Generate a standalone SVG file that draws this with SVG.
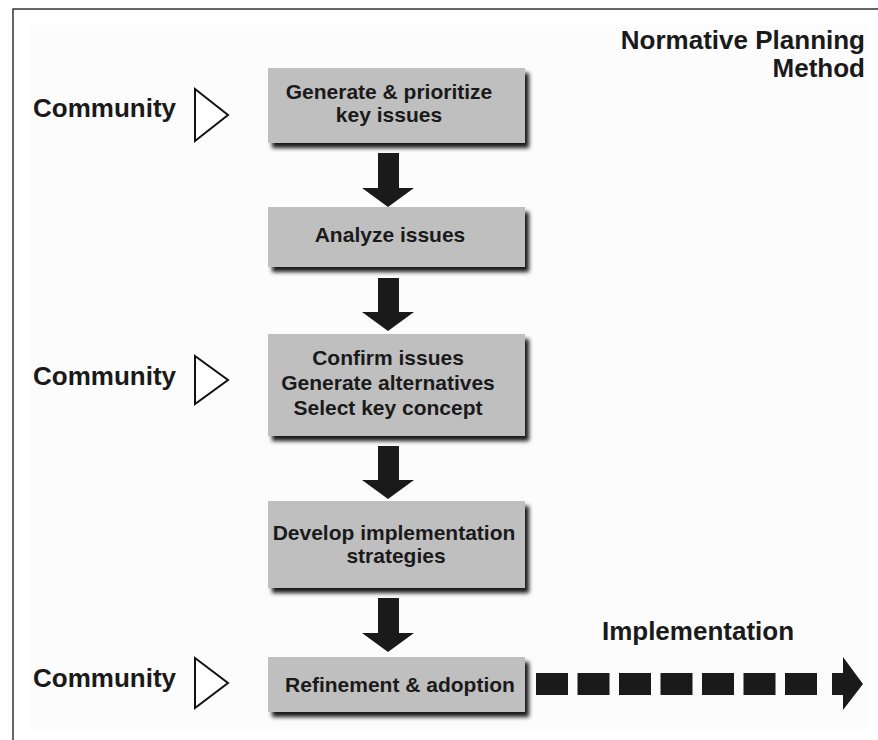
<svg xmlns="http://www.w3.org/2000/svg" width="878" height="740" viewBox="0 0 878 740">
<style>
text{font-family:"Liberation Sans",Arial,sans-serif;font-weight:bold;fill:#1a1a1a}
.lbl{font-size:26px}
.box text{font-size:21px;text-anchor:middle}
.box rect{fill:#bfbfbf;filter:url(#sh)}
.tri{fill:#fff;stroke:#111;stroke-width:2;stroke-linejoin:miter}
.arr{fill:#1a1a1a}
</style>
<defs>
<filter id="sh" x="-10%" y="-20%" width="130%" height="150%">
<feDropShadow dx="4" dy="5" stdDeviation="2" flood-color="#000" flood-opacity="0.9"/>
</filter>
</defs>
<rect width="878" height="740" fill="#fff"/>
<rect x="30" y="25" width="838" height="705" fill="#fcfcfc"/>
<path d="M13,740 V9 H878" fill="none" stroke="#333" stroke-width="1.5"/>

<g id="title">
<text class="lbl" x="865" y="49" text-anchor="end">Normative Planning</text>
<text class="lbl" x="865" y="77" text-anchor="end">Method</text>
</g>

<g id="community1">
<text class="lbl" x="33" y="117">Community</text>
<polygon class="tri" points="195,89 228,115 195,141"/>
</g>
<g id="community2">
<text class="lbl" x="33" y="385">Community</text>
<polygon class="tri" points="195,356 228,380 195,404"/>
</g>
<g id="community3">
<text class="lbl" x="33" y="687">Community</text>
<polygon class="tri" points="195,658 228,683 195,708"/>
</g>

<g id="step1" class="box">
<rect x="268" y="68" width="257" height="75"/>
<text x="389" y="99">Generate &amp; prioritize</text>
<text x="389" y="122">key issues</text>
</g>
<g id="step2" class="box">
<rect x="268" y="207" width="257" height="60"/>
<text x="390" y="242">Analyze issues</text>
</g>
<g id="step3" class="box">
<rect x="268" y="334" width="257" height="102"/>
<text x="388" y="365">Confirm issues</text>
<text x="388" y="390">Generate alternatives</text>
<text x="388" y="415">Select key concept</text>
</g>
<g id="step4" class="box">
<rect x="268" y="501" width="257" height="87"/>
<text x="394" y="540">Develop implementation</text>
<text x="396" y="563">strategies</text>
</g>
<g id="step5" class="box">
<rect x="268" y="657" width="257" height="55"/>
<text x="400" y="692">Refinement &amp; adoption</text>
</g>

<g id="implementation-label">
<text class="lbl" x="698" y="640" text-anchor="middle">Implementation</text>
</g>

<g id="connectors">
<polygon class="arr" points="378,153 399,153 399,188 414,188 388,207 362,188 378,188"/>
<polygon class="arr" points="378,278 399,278 399,312 414,312 388,331 362,312 378,312"/>
<polygon class="arr" points="378,446 399,446 399,480 414,480 388,499 362,480 378,480"/>
<polygon class="arr" points="378,598 399,598 399,633 414,633 388,652 362,633 378,633"/>
<g class="arr">
<rect x="536" y="673" width="32" height="22"/>
<rect x="577.5" y="673" width="32" height="22"/>
<rect x="619" y="673" width="32" height="22"/>
<rect x="660.5" y="673" width="32" height="22"/>
<rect x="702" y="673" width="32" height="22"/>
<rect x="743.5" y="673" width="32" height="22"/>
<rect x="785" y="673" width="32" height="22"/>
<polygon points="832,673 843,673 843,657 863,684 843,710 843,695 832,695"/>
</g>
</g>
</svg>
